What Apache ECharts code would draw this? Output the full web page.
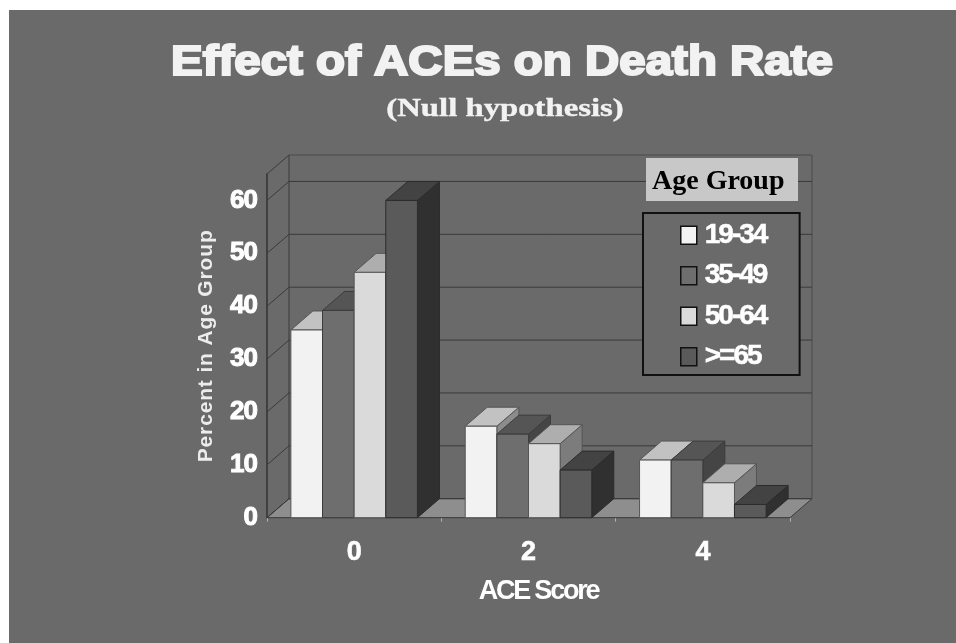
<!DOCTYPE html>
<html><head><meta charset="utf-8">
<style>html,body{margin:0;padding:0;background:#fff}#c{width:956px;height:643px}</style>
<script src="https://cdn.jsdelivr.net/npm/echarts@6/dist/echarts.min.js"></script>
</head><body><div id="c"></div>
<script>
const categories = ['0','2','4'];
const ageGroups = ['19-34','35-49','50-64','>=65'];
const s1934 = [35.5, 17.3, 10.9];
const s3549 = [39.2, 15.8, 10.9];
const s5064 = [46.4, 14.0, 6.6];
const s65up = [60.0, 9.0, 2.5];
const yTicks = [0,10,20,30,40,50,60];
const seriesValues = [s1934, s3549, s5064, s65up];

// tight tracking of the original slide's sans labels, keyed by font size
const tracking={'21px':'0.85px','26px':'-1px','27px':'-2.2px','28px':'-2px'};
['fillText','strokeText'].forEach(fn=>{
  const proto=CanvasRenderingContext2D.prototype, orig=proto[fn];
  proto[fn]=function(){
    const m=/(\d+)px/.exec(this.font);
    const serif=this.font.indexOf('Serif')>=0;
    this.letterSpacing=(!serif&&m&&tracking[m[1]+'px'])||'0px';
    return orig.apply(this,arguments);
  };
});

const BG='#6a6a6a';
const DX=22, DY=-19;
const faces=[
 {front:'#f2f2f2',top:'#c2c2c2',side:'#8c8c8c',edge:'#555555'},
 {front:'#6e6e6e',top:'#555555',side:'#454545',edge:'#3c3c3c'},
 {front:'#dadada',top:'#aeaeae',side:'#7c7c7c',edge:'#555555'},
 {front:'#5a5a5a',top:'#434343',side:'#303030',edge:'#2c2c2c'}
];
const poly=(pts,fill,stroke)=>({type:'polygon',shape:{points:pts},style:{fill,stroke,lineWidth:1}});
function barRender(si){
  return function(params,api){
    const c=api.coord([api.value(0),api.value(1)]);
    const base=api.coord([api.value(0),0]);
    const band=api.size([1,0])[0];
    const w=band*0.1815;
    const x0=c[0]-2*w+si*w, x1=x0+w, y=c[1], b=base[1];
    const f=faces[si];
    return {type:'group',children:[
      poly([[x1,y],[x1+DX,y+DY],[x1+DX,b+DY],[x1,b]],f.side,f.edge),
      poly([[x0,y],[x0+DX,y+DY],[x1+DX,y+DY],[x1,y]],f.top,f.edge),
      {type:'rect',shape:{x:x0,y:y,width:w,height:b-y},style:{fill:f.front,stroke:f.edge,lineWidth:1}}
    ]};
  };
}
const wall={type:'custom',name:'wall',silent:true,z:1,data:yTicks.map(v=>[v]),
  renderItem(params,api){
    const v=api.value(0);
    const L=api.coord([0,v]);
    const band=api.size([1,0])[0];
    const xl=L[0]-band/2, xr=xl+band*3, y=L[1];
    const line=(a,b,c,d,col)=>({type:'line',shape:{x1:a,y1:b,x2:c,y2:d},style:{stroke:col||'#3a3a3a',lineWidth:1}});
    const ch=[line(xl,y,xl+DX,y+DY),line(xl+DX,y+DY,xr+DX,y+DY)];
    if(v===0){
      ch.unshift(poly([[xl,y],[xl+DX,y+DY],[xr+DX,y+DY],[xr,y]],'#8e8e8e','#3a3a3a'));
      const top=api.coord([0,65])[1];
      ch.push(line(xl+DX,y+DY,xl+DX,top+DY));
      ch.push(line(xr+DX,y+DY,xr+DX,top+DY,'#4a4a4a'));
      ch.push(line(xl+DX,top+DY,xr+DX,top+DY,'#4a4a4a'));
      ch.push(line(xl,top,xl+DX,top+DY));
    }
    return {type:'group',children:ch};
  }};
const series=[wall].concat(seriesValues.map((vals,si)=>({
  type:'custom',name:ageGroups[si],z:2+si,
  itemStyle:{color:faces[si].front},
  data:vals.map((v,i)=>[i,v]),
  encode:{x:0,y:1},
  renderItem:barRender(si)
})));
const chart=echarts.init(document.getElementById('c'),null,{renderer:'canvas'});
chart.setOption({
  animation:false,
  backgroundColor:'#ffffff',
  graphic:[
    {type:'rect',z:-10,silent:true,shape:{x:9,y:10,width:947,height:633},style:{fill:BG}},
    {type:'text',silent:true,x:502,y:63,scaleX:1.13,style:{x:0,y:0,text:'Effect of ACEs on Death Rate',align:'center',verticalAlign:'middle',fill:'#f2f2f2',stroke:'#f2f2f2',lineWidth:2.2,font:'bold 42px "Liberation Sans"'}},
    {type:'text',silent:true,x:505,y:110,scaleX:1.31,style:{x:0,y:0,text:'(Null hypothesis)',align:'center',verticalAlign:'middle',fill:'#f2f2f2',stroke:'#f2f2f2',lineWidth:0.4,font:'bold 25px "Liberation Serif"'}},
    {type:'rect',z:20,silent:true,shape:{x:646,y:158,width:152,height:43},style:{fill:'#c8c8c8'}},
    {type:'text',z:21,silent:true,style:{x:652,y:182,text:'Age Group',fill:'#000',verticalAlign:'middle',font:'bold 28px "Liberation Serif"'}}
  ],
  grid:{left:267,right:166,top:174,bottom:125.3,containLabel:false},
  xAxis:{type:'category',data:categories,
    name:'ACE Score',nameLocation:'middle',nameGap:60,
    nameTextStyle:{color:'#fff',fontFamily:'Liberation Sans',fontWeight:'bold',fontSize:27,padding:[0,0,0,20]},
    axisLine:{show:true,lineStyle:{color:'#3a3a3a',width:1}},
    axisTick:{show:true,length:4,lineStyle:{color:'#b0b0b0'}},
    axisLabel:{color:'#fff',fontFamily:'Liberation Sans',fontWeight:'bold',fontSize:27,margin:21,padding:[0,2,0,0],textBorderColor:'#fff',textBorderWidth:0.6},
    splitLine:{show:false}},
  yAxis:{type:'value',min:0,max:65,interval:10,
    name:'Percent in Age Group',nameLocation:'middle',nameGap:49,nameRotate:90,
    nameTextStyle:{color:'#ececec',fontFamily:'Liberation Sans',fontWeight:'bold',fontSize:21},
    axisLine:{show:true,lineStyle:{color:'#333',width:1.5}},
    axisTick:{show:false},
    axisLabel:{color:'#fff',fontFamily:'Liberation Sans',fontWeight:'bold',fontSize:26,margin:10,showMaxLabel:false,
      padding:[5,0,0,0],textBorderColor:'#fff',textBorderWidth:1,
      formatter:v=>yTicks.includes(v)?String(v):''},
    splitLine:{show:false}},
  legend:{orient:'vertical',left:643,top:213,data:ageGroups,icon:'rect',itemWidth:16,itemHeight:18,itemGap:12,
    padding:[8,23,4,37],borderColor:'#111',borderWidth:2,backgroundColor:BG,
    selectedMode:false,z:20,
    itemStyle:{borderColor:'#111',borderWidth:1.5},
    textStyle:{color:'#fff',fontFamily:'Liberation Sans',fontWeight:'bold',fontSize:28,lineHeight:28,padding:[0,0,0,3],textBorderColor:'#fff',textBorderWidth:0.5}},
  series
});
</script></body></html>
